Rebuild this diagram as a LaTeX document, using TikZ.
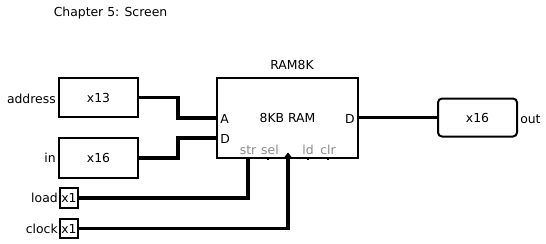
\documentclass[tikz,border=0pt]{standalone}
\usepackage{fontspec}
\setmainfont{DejaVu Sans}
\begin{document}
\begin{tikzpicture}[x=0.75pt,y=-0.75pt,
  font=\fontsize{9.3}{11}\selectfont,
  box/.style={draw, line width=1.5pt, inner sep=0pt, outer sep=0pt},
  wire/.style={line width=2.3pt},
  tick/.style={line width=1.2pt},
  lbl/.style={inner sep=0pt},
  pinlbl/.style={inner sep=0pt, text=black!45}]
\useasboundingbox (0,0) rectangle (546,243);

\node[lbl] (title) at (110.5,13) {Chapter 5: Screen};

% input buses
\node[box, minimum width=59.25pt, minimum height=29.25pt] (addr) at (98.5,97.5) {x13};
\node[lbl, anchor=east] (addrlbl) at (56,99) {address};
\node[box, minimum width=59.25pt, minimum height=30pt] (inb) at (98.5,158) {x16};
\node[lbl, anchor=east] (inlbl) at (56,158) {in};

% single-bit inputs
\node[box, minimum width=13.5pt, minimum height=15pt] (load) at (69,198) {x1};
\node[lbl, anchor=east] (loadlbl) at (58,198) {load};
\node[box, minimum width=13.5pt, minimum height=14.25pt] (clk) at (69,228.5) {x1};
\node[lbl, anchor=east] (clklbl) at (58,229) {clock};

% the RAM chip
\node[box, minimum width=105.75pt, minimum height=60pt] (ram) at (287.5,117.5) {8KB RAM};
\node[lbl] (ramname) at (292,65) {RAM8K};
\node[lbl, anchor=west] (pa) at (220,119) {A};
\node[lbl, anchor=west] (pd) at (220,139) {D};
\node[lbl, anchor=east] (pdo) at (355,119) {D};
\node[pinlbl] (pstr) at (248,150) {str};
\node[pinlbl] (psel) at (270,150) {sel};
\node[pinlbl] (pld) at (308,150) {ld};
\node[pinlbl] (pclr) at (328,150) {clr};

% output bus
\node[box, rounded corners=3pt, minimum width=59.25pt, minimum height=28.5pt] (outb) at (477.5,117.5) {x16};
\node[lbl, anchor=west] (outlbl) at (520,119) {out};

% pin positions on the chip
\coordinate (pinA) at (217,118);
\coordinate (pinD) at (217,138);
\coordinate (pinstr) at (248,157);
\coordinate (pinclk) at (288,157);

% connections
\draw[wire] (addr.east) -- ++(40,0) |- (pinA);
\draw[wire] (inb.east) -- ++(40,0) |- (pinD);
\draw[wire] (load.east) -| (pinstr);
\draw[wire] (clk.east) -| (pinclk);
\draw[wire] (ram.east) -- (outb.west);

% unused pin stubs and clock marker
\draw[tick] (268,157) -- (268,160);
\draw[tick] (308,157) -- (308,160);
\draw[tick] (328,157) -- (328,160);
\fill (284.5,157) -- (288,152.5) -- (291.5,157) -- cycle;
\end{tikzpicture}
\end{document}
